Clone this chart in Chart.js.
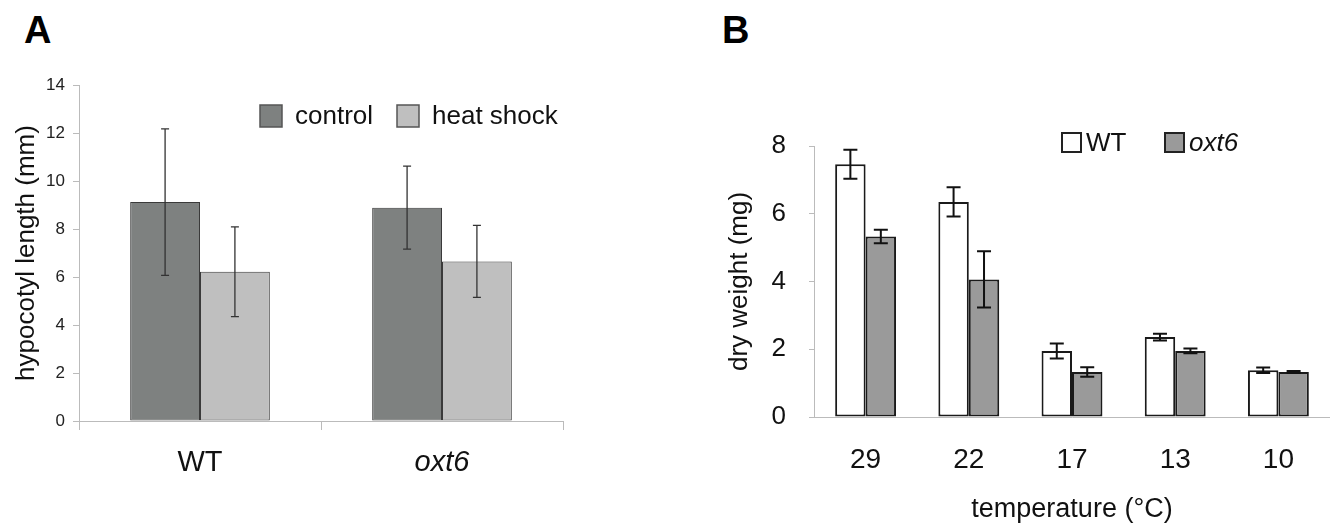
<!DOCTYPE html>
<html>
<head>
<meta charset="utf-8">
<script src="https://cdn.jsdelivr.net/npm/chart.js@4.4.1/dist/chart.umd.min.js"></script>
<style>
    html, body { margin: 0; padding: 0; background: #fff; }
    body { width: 1330px; height: 528px; position: relative; overflow: hidden; font-family: 'Liberation Sans', Arial, sans-serif; }
    .panel-label { position: absolute; font-weight: bold; font-size: 38px; line-height: 1; color: #000; }
    #chartA { position: absolute; left: 0; top: 0; }
    #chartB { position: absolute; left: 700px; top: 0; }
</style>
</head>
<body>
<div class="panel-label" style="left:24px;top:11px">A</div>
<div class="panel-label" style="left:722px;top:11px">B</div>
<canvas id="chartA" width="600" height="528"></canvas>
<canvas id="chartB" width="630" height="528"></canvas>

<script>
// A: 下胚軸長度
const genotypes = ['WT', 'oxt6'];
const controlLength = [9.12, 8.89];
const controlErr = [3.05, 1.73];
const heatShockLength = [6.22, 6.65];
const heatShockErr = [1.87, 1.50];
const lengthTicks = [0, 2, 4, 6, 8, 10, 12, 14];

// B: 乾重
const temperatures = ['29', '22', '17', '13', '10'];
const wtWeight = [7.46, 6.35, 1.95, 2.36, 1.38];
const wtWeightErr = [0.43, 0.43, 0.22, 0.10, 0.08];
const oxt6Weight = [5.33, 4.06, 1.33, 1.95, 1.33];
const oxt6WeightErr = [0.20, 0.83, 0.14, 0.07, 0.03];
const weightTicks = [0, 2, 4, 6, 8];

const FONT = "'Liberation Sans', Arial, sans-serif";
Chart.defaults.font.family = FONT;
Chart.defaults.color = '#111';

/**
 * 誤差線
 */
const errorBars = {
    id: 'errorBars',
    afterDatasetsDraw(chart, args, opts) {
        const ctx = chart.ctx;
        const yScale = chart.scales.y;
        chart.data.datasets.forEach((ds, di) => {
            const meta = chart.getDatasetMeta(di);
            meta.data.forEach((bar, i) => {
                const v = ds.data[i];
                const e = ds.errors[i];
                const top = yScale.getPixelForValue(v + e);
                const bot = yScale.getPixelForValue(v - e);
                const half = opts.cap / 2;
                ctx.save();
                ctx.strokeStyle = opts.color;
                ctx.lineWidth = opts.width;
                ctx.beginPath();
                ctx.moveTo(bar.x, top);
                ctx.lineTo(bar.x, bot);
                ctx.moveTo(bar.x - half, top);
                ctx.lineTo(bar.x + half, top);
                ctx.moveTo(bar.x - half, bot);
                ctx.lineTo(bar.x + half, bot);
                ctx.stroke();
                ctx.restore();
            });
        });
    }
};

/**
 * 圖例（方塊 + 文字）
 */
const boxLegend = {
    id: 'boxLegend',
    afterDraw(chart, args, opts) {
        const ctx = chart.ctx;
        chart.data.datasets.forEach((ds, i) => {
            const x = opts.xs[i];
            ctx.save();
            ctx.fillStyle = ds.backgroundColor;
            ctx.fillRect(x, opts.y, opts.box, opts.box);
            ctx.lineWidth = opts.lineWidth;
            ctx.strokeStyle = opts.stroke;
            ctx.strokeRect(x, opts.y, opts.box, opts.box);
            ctx.font = (ds.italic ? 'italic ' : '') + opts.fontSize + 'px ' + FONT;
            ctx.fillStyle = '#111';
            ctx.textBaseline = 'middle';
            ctx.fillText(ds.label, x + opts.box + opts.gap, opts.y + opts.box / 2 + 1);
            ctx.restore();
        });
    }
};

const italicTick = (size) => (c) => ({
    size: size,
    style: c.tick && c.tick.label === 'oxt6' ? 'italic' : 'normal'
});

new Chart(document.getElementById('chartA'), {
    type: 'bar',
    data: {
        labels: genotypes,
        datasets: [
            {
                label: 'control',
                data: controlLength,
                errors: controlErr,
                backgroundColor: '#7e8180',
                borderColor: '#3a3a3a',
                borderWidth: 1,
                borderSkipped: false
            },
            {
                label: 'heat shock',
                data: heatShockLength,
                errors: heatShockErr,
                backgroundColor: '#bfbfbf',
                borderColor: '#3a3a3a',
                borderWidth: 1,
                borderSkipped: false
            }
        ]
    },
    options: {
        responsive: false,
        animation: false,
        events: [],
        layout: { padding: { top: 85, right: 37, left: 0, bottom: 0 } },
        datasets: { bar: { barPercentage: 1, categoryPercentage: 0.577 } },
        scales: {
            x: {
                grid: { drawOnChartArea: false, drawTicks: true, tickLength: 9, color: '#bbb', offset: true },
                border: { color: '#bbb' },
                ticks: { font: italicTick(29), color: '#111', padding: 16 },
                afterFit(scale) { scale.height = 107; }
            },
            y: {
                min: 0,
                max: 14,
                afterBuildTicks(scale) { scale.ticks = lengthTicks.map(v => ({ value: v })); },
                grid: { drawOnChartArea: false, drawTicks: true, tickLength: 6, color: '#bbb' },
                border: { color: '#bbb' },
                ticks: { font: { size: 17 }, color: '#222', padding: 8 },
                title: {
                    display: true,
                    text: 'hypocotyl length (mm)',
                    font: { size: 26 },
                    color: '#111',
                    padding: { top: 11, bottom: 0 }
                },
                afterFit(scale) { scale.width = 79; }
            }
        },
        plugins: {
            legend: { display: false },
            tooltip: { enabled: false },
            errorBars: { color: '#333', width: 1.3, cap: 8 },
            boxLegend: { xs: [260, 397], y: 105, box: 22, gap: 13, fontSize: 26, lineWidth: 1.5, stroke: '#555' }
        }
    },
    plugins: [errorBars, boxLegend]
});

new Chart(document.getElementById('chartB'), {
    type: 'bar',
    data: {
        labels: temperatures,
        datasets: [
            {
                label: 'WT',
                data: wtWeight,
                errors: wtWeightErr,
                backgroundColor: '#ffffff',
                borderColor: '#1a1a1a',
                borderWidth: 2,
                borderSkipped: false
            },
            {
                label: 'oxt6',
                italic: true,
                data: oxt6Weight,
                errors: oxt6WeightErr,
                backgroundColor: '#9a9a9a',
                borderColor: '#1a1a1a',
                borderWidth: 2,
                borderSkipped: false
            }
        ]
    },
    options: {
        responsive: false,
        animation: false,
        events: [],
        layout: { padding: { top: 146, right: 0, left: 0, bottom: 0 } },
        datasets: { bar: { barPercentage: 1, categoryPercentage: 0.59 } },
        scales: {
            x: {
                grid: { display: false },
                border: { color: '#bbb' },
                ticks: { font: { size: 28 }, color: '#111', padding: 18 },
                title: {
                    display: true,
                    text: 'temperature (°C)',
                    font: { size: 27 },
                    color: '#111',
                    padding: { top: 4, bottom: 2 }
                },
                afterFit(scale) { scale.height = 111; }
            },
            y: {
                min: 0,
                max: 8,
                afterBuildTicks(scale) { scale.ticks = weightTicks.map(v => ({ value: v })); },
                grid: { drawOnChartArea: false, drawTicks: true, tickLength: 5, color: '#bbb' },
                border: { color: '#bbb' },
                ticks: { font: { size: 26 }, color: '#111', padding: 23 },
                title: {
                    display: true,
                    text: 'dry weight (mg)',
                    font: { size: 26 },
                    color: '#111',
                    padding: { top: 24, bottom: 0 }
                },
                afterFit(scale) { scale.width = 114; }
            }
        },
        plugins: {
            legend: { display: false },
            tooltip: { enabled: false },
            errorBars: { color: '#111', width: 2, cap: 14 },
            boxLegend: { xs: [362, 465], y: 133, box: 19, gap: 5, fontSize: 26, lineWidth: 2, stroke: '#222' }
        }
    },
    plugins: [errorBars, boxLegend]
});
</script>
</body>
</html>
